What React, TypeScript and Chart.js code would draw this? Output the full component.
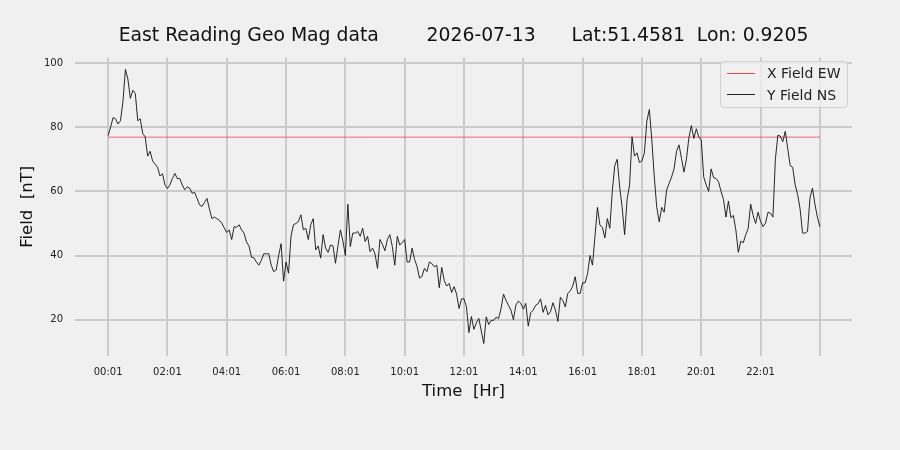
import { useEffect, useRef } from 'react';
import { Chart, registerables } from 'chart.js';

Chart.register(...registerables);

const FONT = '"DejaVu Sans", sans-serif';

const titleText = 'East Reading Geo Mag data        2026-07-13      Lat:51.4581  Lon: 0.9205';

// one reading every 5 minutes from 00:01
const sampleStepMin = 5;

const yFieldNs = [
    77.4, 80, 83, 82.6, 81, 82, 88, 98, 95, 89, 91.5, 90.5,
    82, 82.6, 78, 77, 71, 72.5, 69.5, 68.5, 67.5, 64.8, 65.5, 62,
    60.9, 62, 64, 65.6, 64, 64, 62, 60.5, 61.4, 61, 59.4, 59.7,
    57.8, 55.8, 55.3, 56.5, 57.8, 54.5, 51.5, 52, 51.5, 51, 50.1, 48.6,
    47.2, 48, 45, 49, 48.8, 49.6, 48, 47, 44.2, 43, 39.5, 39.3,
    38, 37, 38.5, 40.6, 40.5, 40.6, 37, 35, 35.5, 40, 43.7, 32,
    38, 34.5, 46, 49.6, 50, 50.6, 52.7, 48, 48.5, 45, 49.6, 51.5,
    41.8, 43, 39.2, 46.5, 42.3, 41, 43.3, 43, 37.6, 43, 48, 44.5,
    40, 56, 42.8, 47, 47, 47.5, 46, 48.5, 44.4, 46, 41.2, 42.3,
    40.5, 36, 45, 43.5, 41.5, 45, 46.5, 42.8, 37, 46, 43.3, 44,
    45, 38, 38, 42.3, 38.8, 36.6, 33, 33.5, 36, 35, 38, 37.5,
    36.5, 37, 30, 36.3, 32.2, 30.5, 31.3, 28.5, 30.3, 28, 23.5, 26.5,
    26.5, 24, 16, 21, 17, 19, 20.4, 16.5, 12.6, 20.9, 18.5, 19.8,
    19.8, 20.8, 20.4, 23.5, 28, 26, 24.5, 23, 20, 24.6, 25.8, 25.1,
    23.3, 25.1, 18, 22.2, 23, 24.5, 25, 26.5, 22.3, 24.5, 21.5, 22.5,
    25.3, 23, 19.5, 27, 26, 24, 28.2, 29, 30.5, 33.4, 28.2, 28.2,
    31.5, 31.5, 34.4, 40, 37, 46, 55, 49.5, 48.8, 45.5, 51.5, 48.5,
    60, 68, 70, 61.3, 55, 46.5, 57.5, 62, 77, 71, 72, 69,
    69.5, 72, 82, 85.5, 76, 64.5, 55, 50.5, 55, 53.5, 60.5, 62.5,
    64.5, 67, 72.5, 74.5, 70.3, 66, 70, 76.7, 80.5, 76.5, 79.5, 77,
    76, 64.5, 62, 60, 67, 64.3, 64, 63, 60, 57.5, 52, 57,
    51.8, 52.5, 48, 41, 44.5, 44, 46.5, 48.5, 56, 52.5, 50, 53.5,
    50.6, 49, 50.1, 53.5, 53.2, 52, 70, 77.5, 77.2, 75.5, 78.7, 73.3,
    68, 67.5, 62, 59, 54.5, 47, 47, 47.5, 58, 61, 56, 52, 49,
];

const xFieldTimes = [0, 1440];
const xFieldEw = [76.9, 76.9];

const xTickMinutes = [0, 120, 240, 360, 480, 600, 720, 840, 960, 1080, 1200, 1320, 1440];
const xTickLabels = ['00:01', '02:01', '04:01', '06:01', '08:01', '10:01', '12:01', '14:01', '16:01', '18:01', '20:01', '22:01', ''];
const yTicks = [20, 40, 60, 80, 100];

const legendItems = [
    { label: 'X Field EW', color: '#e24a4a' },
    { label: 'Y Field NS', color: '#222222' },
];

function GeoMagChart() {
    const canvasRef = useRef<HTMLCanvasElement | null>(null);

    useEffect(() => {
        if (!canvasRef.current) {
            return;
        }

        const chart = new Chart(canvasRef.current, {
            type: 'line',
            data: {
                datasets: [
                    {
                        label: 'Y Field NS',
                        data: yFieldNs.map((v, i) => ({ x: i * sampleStepMin, y: v })),
                        borderColor: '#111111',
                        borderWidth: 0.9,
                        pointRadius: 0,
                        tension: 0,
                        order: 0,
                    },
                    {
                        label: 'X Field EW',
                        data: xFieldTimes.map((t, i) => ({ x: t, y: xFieldEw[i] })),
                        borderColor: '#e24a4a',
                        borderWidth: 0.8,
                        pointRadius: 0,
                        order: 1,
                    },
                ],
            },
            options: {
                animation: false,
                responsive: false,
                layout: { padding: { left: 0, right: 48, top: 0, bottom: 0 } },
                plugins: {
                    legend: { display: false },
                    tooltip: { enabled: false },
                    title: {
                        display: true,
                        text: titleText,
                        fullSize: false,
                        color: '#111',
                        font: { family: FONT, size: 18.8, weight: 'normal' },
                        padding: { top: 25, bottom: 10 },
                    },
                },
                scales: {
                    x: {
                        type: 'linear',
                        min: -67,
                        max: 1505,
                        afterBuildTicks: (s) => {
                            s.ticks = xTickMinutes.map((v) => ({ value: v }));
                        },
                        afterFit: (s) => {
                            s.height = 94;
                        },
                        grid: { color: '#cbcbcb', lineWidth: 2, drawTicks: false },
                        border: { display: false },
                        ticks: {
                            autoSkip: false,
                            maxRotation: 0,
                            padding: 10,
                            color: '#222',
                            font: { family: FONT, size: 10 },
                            callback: (_v, i) => xTickLabels[i],
                        },
                        title: {
                            display: true,
                            text: 'Time  [Hr]',
                            color: '#111',
                            font: { family: FONT, size: 16.5 },
                            padding: { top: 0, bottom: 48 },
                        },
                    },
                    y: {
                        min: 8.7,
                        max: 101.7,
                        afterBuildTicks: (s) => {
                            s.ticks = yTicks.map((v) => ({ value: v }));
                        },
                        afterFit: (s) => {
                            s.width = 75;
                        },
                        grid: { color: '#cbcbcb', lineWidth: 2, drawTicks: false },
                        border: { display: false },
                        ticks: {
                            padding: 12,
                            color: '#222',
                            font: { family: FONT, size: 10 },
                        },
                        title: {
                            display: true,
                            text: 'Field  [nT]',
                            color: '#111',
                            font: { family: FONT, size: 16.5 },
                            padding: { top: 18, bottom: 0 },
                        },
                    },
                },
            },
        });

        return () => chart.destroy();
    }, []);

    return (
        <div style={{ position: 'absolute', left: 0, top: 0, width: 900, height: 450, background: '#f0f0f0' }}>
            <canvas ref={canvasRef} width={900} height={450} style={{ display: 'block' }} />
            <div
                style={{
                    position: 'absolute',
                    left: 720,
                    top: 61,
                    width: 128,
                    height: 47,
                    boxSizing: 'border-box',
                    border: '1px solid #d0d0d0',
                    borderRadius: 4,
                    background: 'rgba(240, 240, 240, 0.8)',
                    fontFamily: FONT,
                    fontSize: 14,
                    color: '#222',
                }}
            >
                {legendItems.map((item, i) => (
                    <div key={item.label} style={{ position: 'absolute', left: 0, top: 1 + i * 21.6, height: 20, width: '100%' }}>
                        <div style={{ position: 'absolute', left: 6, top: 9.5, width: 28, height: 0, borderTop: `1px solid ${item.color}` }} />
                        <div style={{ position: 'absolute', left: 46, top: 1, lineHeight: '18px', whiteSpace: 'nowrap' }}>{item.label}</div>
                    </div>
                ))}
            </div>
        </div>
    );
}

export default function App() {
    return <GeoMagChart />;
}
